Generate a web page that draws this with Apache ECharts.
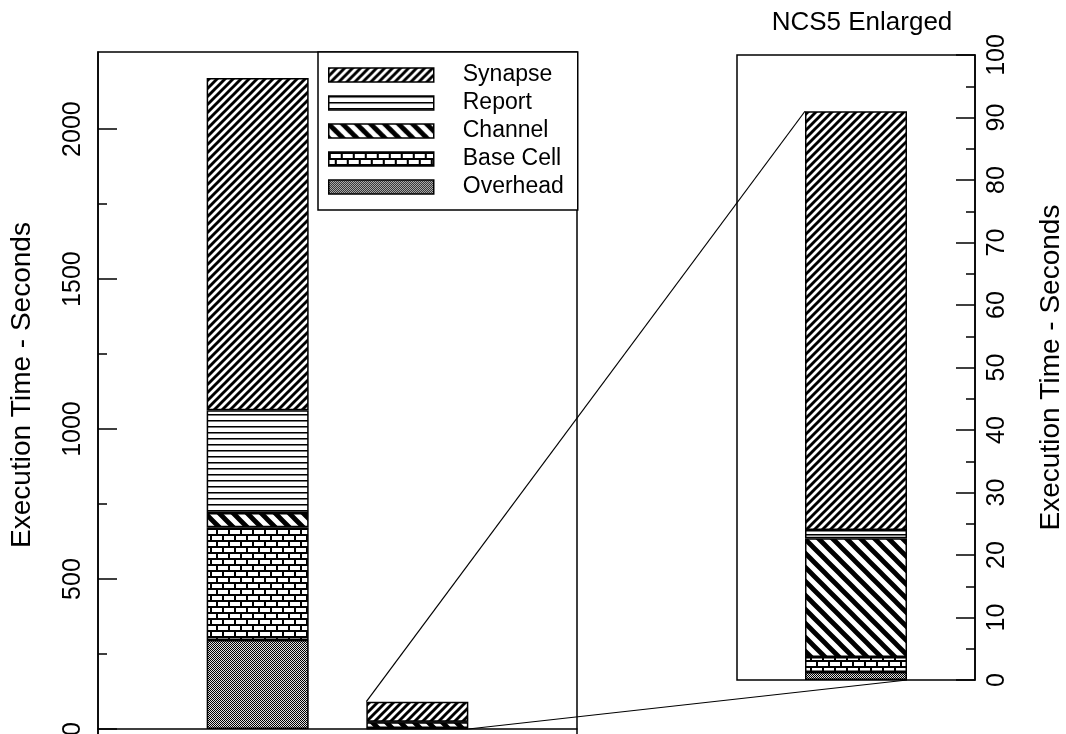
<!DOCTYPE html>
<html>
<head>
<meta charset="utf-8">
<script src="https://cdn.jsdelivr.net/npm/echarts@6/dist/echarts.min.js"></script>
<style>
html, body { margin: 0; padding: 0; background: #fff; }
#chart { width: 1066px; height: 734px; }
</style>
</head>
<body>
<div id="chart"></div>
<script>
// data (seconds)
var categories = ['', 'Original', 'NCS5', ''];
var zoomCategories = ['NCS5'];
var components = ['Overhead', 'Base Cell', 'Channel', 'Report', 'Synapse'];
var originalTimes = [297, 376, 47, 343, 1107];
var ncs5Times = [1.3, 2.4, 19.0, 1.3, 67.0];
var leftTicks = [0, 500, 1000, 1500, 2000];
var leftMinorTicks = [250, 750, 1250, 1750];
var legendOrder = ['Synapse', 'Report', 'Channel', 'Base Cell', 'Overhead'];

function makeTile(w, h, draw) {
    var c = document.createElement('canvas');
    c.width = w;
    c.height = h;
    var ctx = c.getContext('2d');
    ctx.fillStyle = '#fff';
    ctx.fillRect(0, 0, w, h);
    ctx.fillStyle = '#000';
    ctx.strokeStyle = '#000';
    draw(ctx);
    return { image: c, repeat: 'repeat' };
}

var patterns = {
    'Overhead': makeTile(2, 2, function (ctx) {
        ctx.fillStyle = '#e0e0e0';
        ctx.fillRect(0, 0, 2, 2);
        ctx.fillStyle = '#000';
        ctx.fillRect(0, 0, 1, 1);
        ctx.fillRect(1, 1, 1, 1);
    }),
    'Base Cell': makeTile(24, 12, function (ctx) {
        ctx.fillRect(0, 0, 24, 2);
        ctx.fillRect(0, 6, 24, 2);
        ctx.fillRect(0, 0, 2, 6);
        ctx.fillRect(12, 0, 2, 6);
        ctx.fillRect(6, 6, 2, 6);
        ctx.fillRect(18, 6, 2, 6);
    }),
    'Channel': makeTile(14, 14, function (ctx) {
        ctx.lineWidth = 4.8;
        ctx.beginPath();
        ctx.moveTo(-3, -3); ctx.lineTo(17, 17);
        ctx.moveTo(11, -3); ctx.lineTo(17, 3);
        ctx.moveTo(-3, 11); ctx.lineTo(3, 17);
        ctx.stroke();
    }),
    'Report': makeTile(6, 6, function (ctx) {
        ctx.fillRect(0, 0, 6, 1);
        ctx.fillStyle = '#777';
        ctx.fillRect(0, 1, 6, 1);
    }),
    'Synapse': makeTile(8, 8, function (ctx) {
        ctx.lineWidth = 2.9;
        ctx.beginPath();
        ctx.moveTo(-2, 10); ctx.lineTo(10, -2);
        ctx.moveTo(-2, 2); ctx.lineTo(2, -2);
        ctx.moveTo(6, 10); ctx.lineTo(10, 6);
        ctx.stroke();
    })
};

var series = [];
components.forEach(function (name, i) {
    var style = { color: patterns[name], borderColor: '#000', borderWidth: 1.5 };
    series.push({
        name: name,
        type: 'bar',
        stack: 'left',
        xAxisIndex: 0,
        yAxisIndex: 0,
        barWidth: 102,
        data: ['-', originalTimes[i], ncs5Times[i], '-'],
        itemStyle: style
    });
    series.push({
        name: name,
        type: 'bar',
        stack: 'zoom',
        xAxisIndex: 1,
        yAxisIndex: 2,
        barWidth: 102,
        data: [ncs5Times[i]],
        itemStyle: style
    });
});

var black = { color: '#000', width: 1.5 };
var plain = function (v) { return String(v); };

var myChart = echarts.init(document.getElementById('chart'));
var option = {
    animation: false,
    backgroundColor: '#fff',
    textStyle: { fontFamily: 'Liberation Sans, Arial, sans-serif', color: '#000' },
    title: {
        text: 'NCS5 Enlarged',
        left: 857,
        top: 5,
        textAlign: 'center',
        textStyle: { fontSize: 26, fontWeight: 'normal', color: '#000' }
    },
    legend: {
        data: legendOrder,
        orient: 'vertical',
        left: 318,
        top: 52,
        padding: [11, 14, 11, 10],
        itemGap: 4,
        itemWidth: 105,
        itemHeight: 14,
        icon: 'rect',
        selectedMode: false,
        borderColor: '#000',
        borderWidth: 1.5,
        backgroundColor: '#fff',
        itemStyle: { borderColor: '#000', borderWidth: 1.5 },
        textStyle: { fontSize: 23, color: '#000', lineHeight: 24, padding: [0, 0, 0, 24] }
    },
    grid: [
        { left: 98, top: 52, width: 479, height: 704, outerBoundsMode: 'none', show: true, borderColor: '#000', borderWidth: 1.5 },
        { left: 737, top: 55, width: 238, height: 625, outerBoundsMode: 'none', show: true, borderColor: '#000', borderWidth: 1.5 }
    ],
    xAxis: [
        {
            type: 'category',
            gridIndex: 0,
            data: categories,
            boundaryGap: false,
            axisLine: { onZero: true, lineStyle: black },
            axisTick: { show: false },
            axisLabel: { show: false }
        },
        {
            type: 'category',
            gridIndex: 1,
            data: zoomCategories,
            axisLine: { show: false },
            axisTick: { show: false },
            axisLabel: { show: false }
        }
    ],
    yAxis: [
        {
            type: 'value',
            gridIndex: 0,
            position: 'left',
            min: -90,
            max: 2257,
            name: 'Execution Time - Seconds',
            nameLocation: 'middle',
            nameGap: 62,
            nameTextStyle: { fontSize: 28, color: '#000', padding: [0, 0, 0, 38] },
            axisLine: { show: true, lineStyle: black },
            axisTick: { show: true, inside: true, length: 19, customValues: leftTicks, lineStyle: black },
            axisLabel: { rotate: 90, fontSize: 25, color: '#000', margin: 12, customValues: leftTicks, formatter: plain },
            splitLine: { show: false }
        },
        {
            type: 'value',
            gridIndex: 0,
            position: 'left',
            offset: 0,
            min: -90,
            max: 2257,
            axisLine: { show: false },
            axisTick: { show: true, inside: true, length: 9, customValues: leftMinorTicks, lineStyle: black },
            axisLabel: { show: false },
            splitLine: { show: false }
        },
        {
            type: 'value',
            gridIndex: 1,
            position: 'right',
            min: 0,
            max: 100,
            interval: 10,
            name: 'Execution Time - Seconds',
            nameLocation: 'middle',
            nameGap: 62,
            nameTextStyle: { fontSize: 28, color: '#000' },
            axisLine: { show: true, lineStyle: black },
            axisTick: { show: true, inside: true, length: 19, lineStyle: black },
            minorTick: { show: true, splitNumber: 2, length: 9, lineStyle: black },
            axisLabel: { rotate: 90, fontSize: 25, color: '#000', margin: 10, formatter: plain },
            splitLine: { show: false }
        }
    ],
    series: series
};
myChart.setOption(option);

// zoom guide lines from the small NCS5 bar to the enlarged one
var half = 51;
var total5 = ncs5Times.reduce(function (a, b) { return a + b; }, 0);
var smallTop = myChart.convertToPixel({ xAxisIndex: 0, yAxisIndex: 0 }, [2, total5]);
var smallBase = myChart.convertToPixel({ xAxisIndex: 0, yAxisIndex: 0 }, [2, 0]);
var bigTop = myChart.convertToPixel({ xAxisIndex: 1, yAxisIndex: 2 }, [0, total5]);
var bigBase = myChart.convertToPixel({ xAxisIndex: 1, yAxisIndex: 2 }, [0, 0]);
myChart.setOption({
    graphic: [
        {
            type: 'line',
            z: 10,
            shape: { x1: smallTop[0] - half, y1: smallTop[1], x2: bigTop[0] - half, y2: bigTop[1] },
            style: { stroke: '#000', lineWidth: 1.2 }
        },
        {
            type: 'line',
            z: 10,
            shape: { x1: smallBase[0] + half, y1: smallBase[1], x2: bigBase[0] + half, y2: bigBase[1] },
            style: { stroke: '#000', lineWidth: 1.2 }
        }
    ]
});
</script>
</body>
</html>
